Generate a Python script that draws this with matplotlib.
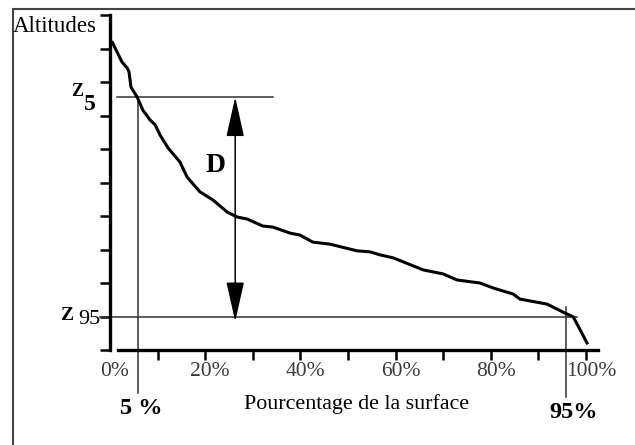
import matplotlib
matplotlib.use("Agg")
import matplotlib.pyplot as plt
from matplotlib.patches import Rectangle
from matplotlib.transforms import ScaledTranslation

#### data
surface_pct = [0.5, 2.5, 3.6, 4.0, 4.4, 5.7, 6.9, 8.4, 9.5, 10.5, 12.2, 14.7, 16.2,
               18.9, 21.6, 24.6, 26.7, 28.8, 32.1, 34.2, 37.8, 39.9, 42.6, 46.2,
               51.9, 54.6, 56.7, 59.5, 61.6, 65.8, 70.0, 72.9, 77.7, 80.5, 84.7,
               86.1, 91.8, 95.6, 97.3, 100.2]
altitude = [918, 860, 842, 830, 785, 755, 716, 687, 672, 642, 603, 561, 516,
            472, 448, 412, 397, 391, 370, 367, 349, 343, 322, 316,
            296, 293, 284, 275, 263, 239, 227, 209, 200, 185, 167,
            152, 137, 110, 99, 21]

z5 = 755
z95 = 100
p5 = 5.8       # where the 5 % line sits in the drawing
p95 = 95.8
d_x = 26.3     # position of the D arrow

major_x = [0, 20, 40, 60, 80, 100]
minor_x = [10, 30, 50, 70, 90]
x_labels = ["0%", "20%", "40%", "60%", "80%", "100%"]
y_ticks = list(range(0, 1001, 100))

####
plt.rcParams["font.family"] = ["Liberation Serif", "DejaVu Serif"]

W, H = 635, 445
fig = plt.figure(figsize=(W / 100, H / 100), dpi=100)
ax = fig.add_axes([110 / W, 1 - 350 / H, 488 / W, 335 / H])
ax.set_xlim(0, 102.5)
ax.set_ylim(0, 1000)

# outer frame (only top and left edges visible)
fig.add_artist(Rectangle((13 / W, -0.2), 1.2, 1.2 - 9 / H, transform=fig.transFigure,
                         fill=False, edgecolor="#444444", lw=1.5, clip_on=False))

# axes look
for s in ["top", "right"]:
    ax.spines[s].set_visible(False)
ax.spines["left"].set_linewidth(2.4)
ax.spines["bottom"].set_linewidth(2.4)
ax.spines["left"].set_bounds(0, 1000)
ax.spines["bottom"].set_bounds(1.6, 102.5)

ax.set_yticks(y_ticks)
ax.set_yticklabels([])
ax.tick_params(axis="y", direction="out", length=7.5, width=1.8)

ax.set_xticks(major_x)
ax.set_xticklabels(x_labels)
ax.set_xticks(minor_x, minor=True)
ax.tick_params(axis="x", which="both", direction="out", length=7.5, width=1.8,
               labelsize=15.5, labelcolor="#3a3a3a", pad=1)
ax.xaxis.get_major_ticks()[0].tick1line.set_visible(False)
offset = ScaledTranslation(5 / 100, 0, fig.dpi_scale_trans)
for lab in ax.get_xticklabels():
    lab.set_transform(lab.get_transform() + offset)

# hypsometric curve
ax.plot(surface_pct, altitude, color="black", lw=2.2, clip_on=False, zorder=3)

# Z5 / Z95 guide lines
ax.plot([1.5, 34.2], [z5, z5], color="#333333", lw=1.1, clip_on=False)
ax.plot([-2.1, 98.1], [z95, z95], color="#333333", lw=1.1, clip_on=False)
ax.plot([p5, p5], [z5, -128], color="#333333", lw=1.1, clip_on=False)
ax.plot([p95, p95], [128, -140], color="#333333", lw=1.1, clip_on=False)

# D arrow
ax.annotate("", xy=(d_x, z5), xytext=(d_x, z95 - 15),
            arrowprops=dict(arrowstyle="<|-|>,head_length=1.25,head_width=0.28",
                            color="black", lw=1.1, shrinkA=0, shrinkB=0,
                            mutation_scale=20))
fig.text(216 / W, 1 - 165 / H, "D", fontsize=20, fontweight="bold", ha="center", va="center")

# labels
fig.text(13 / W, 1 - 27 / H, "Altitudes", fontsize=16.5, ha="left", va="center")
fig.text(77 / W, 1 - 92 / H, "Z", fontsize=13, fontweight="bold", ha="center", va="center")
fig.text(90 / W, 1 - 105 / H, "5", fontsize=17, fontweight="bold", ha="center", va="center")
fig.text(67 / W, 1 - 315 / H, "Z", fontsize=14, fontweight="bold", ha="center", va="center")
fig.text(89 / W, 1 - 320 / H, "95", fontsize=16, ha="center", va="center")
fig.text(141 / W, 1 - 408 / H, "5 %", fontsize=17.5, fontweight="bold", ha="center", va="center")
fig.text(574 / W, 1 - 412 / H, "95%", fontsize=17.5, fontweight="bold", ha="center", va="center")
fig.text(357 / W, 1 - 404 / H, "Pourcentage de la surface", fontsize=15.8, ha="center", va="center")

fig.savefig("out.png", dpi=100)
